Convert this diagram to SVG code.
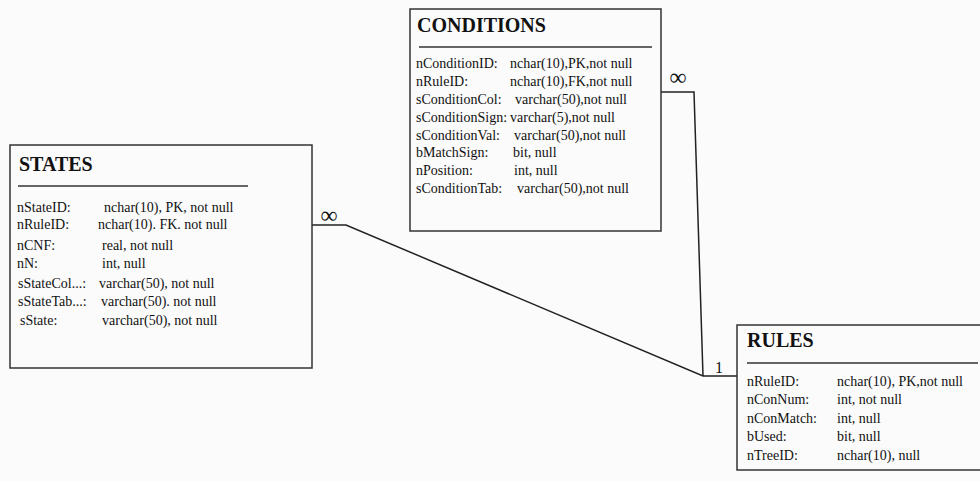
<svg xmlns="http://www.w3.org/2000/svg" width="980" height="481" viewBox="0 0 980 481">
<style>
.box{fill:#fbfbfb;stroke:#333;stroke-width:1.5}
.rule{stroke:#333;stroke-width:1.3}
.title{font-family:"Liberation Serif","Times New Roman",serif;font-weight:bold;font-size:20px;fill:#111}
.t{font-family:"Liberation Serif","Times New Roman",serif;font-size:14px;fill:#111}
.conn{fill:none;stroke:#222;stroke-width:1.5}
.card{font-family:"Liberation Serif","DejaVu Serif",serif;fill:#111}
</style>
<rect width="980" height="481" fill="#fbfbfb"/>
<g id="connectors">
<polyline class="conn" points="312,225 346,225 703,376 737,376"/>
<polyline class="conn" points="661,92 694,92 703,376"/>
<text class="card" x="329" y="223" font-size="24" text-anchor="middle">∞</text>
<text class="card" x="678" y="85" font-size="24" text-anchor="middle">∞</text>
<text class="card" x="719" y="373" font-size="16" text-anchor="middle">1</text>
</g>
<g id="states">
<rect class="box" x="10" y="145" width="302" height="223"/>
<text class="title" x="19" y="171">STATES</text>
<line class="rule" x1="18" y1="186" x2="248" y2="186"/>
<text class="t" x="17" y="212">nStateID:</text><text class="t" x="104" y="212">nchar(10), PK, not null</text>
<text class="t" x="17" y="229">nRuleID:</text><text class="t" x="98" y="229">nchar(10). FK. not null</text>
<text class="t" x="17" y="250">nCNF:</text><text class="t" x="102" y="250">real, not null</text>
<text class="t" x="17" y="268">nN:</text><text class="t" x="102" y="268">int, null</text>
<text class="t" x="18" y="288">sStateCol...:</text><text class="t" x="99" y="288">varchar(50), not null</text>
<text class="t" x="18" y="306">sStateTab...:</text><text class="t" x="101" y="306">varchar(50). not null</text>
<text class="t" x="20" y="325">sState:</text><text class="t" x="102" y="325">varchar(50), not null</text>
</g>
<g id="conditions">
<rect class="box" x="410" y="9" width="251" height="222"/>
<text class="title" x="417" y="32">CONDITIONS</text>
<line class="rule" x1="419" y1="47" x2="652" y2="47"/>
<text class="t" x="416" y="68">nConditionID:</text><text class="t" x="510" y="68">nchar(10),PK,not null</text>
<text class="t" x="416" y="86">nRuleID:</text><text class="t" x="510" y="86">nchar(10),FK,not null</text>
<text class="t" x="416" y="104">sConditionCol:</text><text class="t" x="515" y="104">varchar(50),not null</text>
<text class="t" x="416" y="122">sConditionSign:</text><text class="t" x="510" y="122">varchar(5),not null</text>
<text class="t" x="416" y="140">sConditionVal:</text><text class="t" x="514" y="140">varchar(50),not null</text>
<text class="t" x="416" y="157">bMatchSign:</text><text class="t" x="513" y="157">bit, null</text>
<text class="t" x="416" y="175">nPosition:</text><text class="t" x="514" y="175">int, null</text>
<text class="t" x="416" y="193">sConditionTab:</text><text class="t" x="517" y="193">varchar(50),not null</text>
</g>
<g id="rules">
<rect class="box" x="737" y="325" width="250" height="145"/>
<text class="title" x="747" y="347">RULES</text>
<line class="rule" x1="747" y1="363" x2="978" y2="363"/>
<text class="t" x="747" y="386">nRuleID:</text><text class="t" x="837" y="386">nchar(10), PK,not null</text>
<text class="t" x="747" y="404">nConNum:</text><text class="t" x="837" y="404">int, not null</text>
<text class="t" x="747" y="423">nConMatch:</text><text class="t" x="837" y="423">int, null</text>
<text class="t" x="747" y="441">bUsed:</text><text class="t" x="837" y="441">bit, null</text>
<text class="t" x="747" y="460">nTreeID:</text><text class="t" x="837" y="460">nchar(10), null</text>
</g>
</svg>
